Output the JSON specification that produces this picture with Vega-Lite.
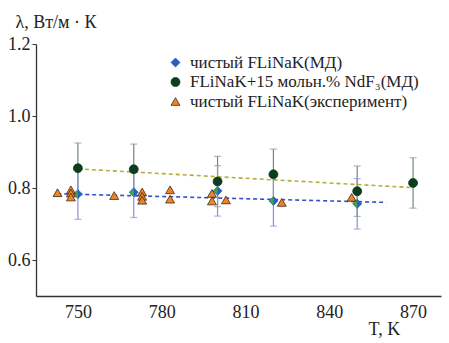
{
  "$schema": "https://vega.github.io/schema/vega-lite/v6.json",
  "width": 405,
  "height": 252,
  "autosize": {"type": "none"},
  "padding": {"left": 36, "top": 44, "right": 8, "bottom": 47},
  "config": {
    "view": {"stroke": null},
    "font": "Liberation Serif",
    "legend": {"padding": 0}
  },
  "datasets": {
    "pts": [
      {"s": "FLiNaK+15 мольн.% NdF₃(МД)", "T": 750, "v": 0.855, "lo": 0.785, "hi": 0.925},
      {"s": "FLiNaK+15 мольн.% NdF₃(МД)", "T": 770, "v": 0.852, "lo": 0.782, "hi": 0.922},
      {"s": "FLiNaK+15 мольн.% NdF₃(МД)", "T": 800, "v": 0.818, "lo": 0.748, "hi": 0.888},
      {"s": "FLiNaK+15 мольн.% NdF₃(МД)", "T": 820, "v": 0.838, "lo": 0.768, "hi": 0.908},
      {"s": "FLiNaK+15 мольн.% NdF₃(МД)", "T": 850, "v": 0.791, "lo": 0.721, "hi": 0.861},
      {"s": "FLiNaK+15 мольн.% NdF₃(МД)", "T": 870, "v": 0.814, "lo": 0.744, "hi": 0.884},
      {"s": "чистый FLiNaK(МД)", "T": 750, "v": 0.783, "lo": 0.713, "hi": 0.853},
      {"s": "чистый FLiNaK(МД)", "T": 770, "v": 0.788, "lo": 0.718, "hi": 0.858},
      {"s": "чистый FLiNaK(МД)", "T": 800, "v": 0.792, "lo": 0.722, "hi": 0.862},
      {"s": "чистый FLiNaK(МД)", "T": 820, "v": 0.764, "lo": 0.694, "hi": 0.834},
      {"s": "чистый FLiNaK(МД)", "T": 850, "v": 0.756, "lo": 0.686, "hi": 0.826},
      {"s": "чистый FLiNaK(эксперимент)", "T": 742.7, "v": 0.787},
      {"s": "чистый FLiNaK(эксперимент)", "T": 747.5, "v": 0.795},
      {"s": "чистый FLiNaK(эксперимент)", "T": 747.5, "v": 0.786},
      {"s": "чистый FLiNaK(эксперимент)", "T": 747.5, "v": 0.775},
      {"s": "чистый FLiNaK(эксперимент)", "T": 763, "v": 0.779},
      {"s": "чистый FLiNaK(эксперимент)", "T": 773, "v": 0.789},
      {"s": "чистый FLiNaK(эксперимент)", "T": 773, "v": 0.777},
      {"s": "чистый FLiNaK(эксперимент)", "T": 773, "v": 0.766},
      {"s": "чистый FLiNaK(эксперимент)", "T": 783, "v": 0.795},
      {"s": "чистый FLiNaK(эксперимент)", "T": 783, "v": 0.769},
      {"s": "чистый FLiNaK(эксперимент)", "T": 798, "v": 0.785},
      {"s": "чистый FLiNaK(эксперимент)", "T": 798, "v": 0.764},
      {"s": "чистый FLiNaK(эксперимент)", "T": 803, "v": 0.767},
      {"s": "чистый FLiNaK(эксперимент)", "T": 823, "v": 0.760},
      {"s": "чистый FLiNaK(эксперимент)", "T": 848, "v": 0.774}
    ],
    "fit": [
      {"line": "blue", "T": 742.6, "v": 0.784},
      {"line": "blue", "T": 860.4, "v": 0.760},
      {"line": "olive", "T": 750, "v": 0.853},
      {"line": "olive", "T": 870, "v": 0.801}
    ]
  },
  "encoding": {
    "x": {
      "field": "T",
      "type": "quantitative",
      "scale": {"domain": [735, 880], "nice": false, "zero": false},
      "axis": {
        "values": [750, 780, 810, 840, 870],
        "ticks": false,
        "grid": false,
        "domainColor": "#333333",
        "domainWidth": 1.3,
        "labelFont": "Liberation Serif",
        "labelFontSize": 18,
        "labelColor": "#222222",
        "labelPadding": 7,
        "title": "T, K",
        "titleFont": "Liberation Serif",
        "titleFontSize": 18,
        "titleFontWeight": "normal",
        "titleColor": "#222222",
        "titleX": 332,
        "titleY": 38,
        "titleAlign": "left",
        "titleBaseline": "alphabetic"
      }
    },
    "y": {
      "field": "v",
      "type": "quantitative",
      "scale": {"domain": [0.5, 1.2], "nice": false, "zero": false},
      "axis": {
        "values": [0.6, 0.8, 1.0, 1.2],
        "format": ".1f",
        "grid": false,
        "tickSize": 4,
        "tickColor": "#333333",
        "domainColor": "#333333",
        "domainWidth": 1.3,
        "labelFont": "Liberation Serif",
        "labelFontSize": 18,
        "labelColor": "#222222",
        "labelPadding": 2,
        "title": "λ, Вт/м · К",
        "titleFont": "Liberation Serif",
        "titleFontSize": 18,
        "titleFontWeight": "normal",
        "titleColor": "#222222",
        "titleAngle": 0,
        "titleX": -21,
        "titleY": -17,
        "titleAlign": "left",
        "titleBaseline": "alphabetic"
      }
    }
  },
  "layer": [
    {
      "data": {"name": "pts"},
      "transform": [{"filter": "isValid(datum.lo)"}],
      "mark": {"type": "rule", "strokeWidth": 1.2},
      "encoding": {
        "y": {"field": "lo", "type": "quantitative", "title": "λ, Вт/м · К"},
        "y2": {"field": "hi"},
        "color": {
          "condition": {"test": "datum.s === 'чистый FLiNaK(МД)'", "value": "#8a92d6"},
          "value": "#708a72"
        }
      }
    },
    {
      "data": {"name": "pts"},
      "transform": [{"filter": "isValid(datum.lo)"}],
      "mark": {"type": "tick", "orient": "horizontal", "size": 7, "thickness": 1.2},
      "encoding": {
        "y": {"field": "lo", "type": "quantitative", "title": "λ, Вт/м · К"},
        "color": {
          "condition": {"test": "datum.s === 'чистый FLiNaK(МД)'", "value": "#8a92d6"},
          "value": "#8a9c8c"
        }
      }
    },
    {
      "data": {"name": "pts"},
      "transform": [{"filter": "isValid(datum.hi)"}],
      "mark": {"type": "tick", "orient": "horizontal", "size": 7, "thickness": 1.2},
      "encoding": {
        "y": {"field": "hi", "type": "quantitative", "title": "λ, Вт/м · К"},
        "color": {
          "condition": {"test": "datum.s === 'чистый FLiNaK(МД)'", "value": "#8a92d6"},
          "value": "#8a9c8c"
        }
      }
    },
    {
      "data": {"name": "fit"},
      "transform": [{"filter": "datum.line === 'blue'"}],
      "mark": {"type": "line", "color": "#3552c4", "strokeWidth": 1.6, "strokeDash": [4, 3]}
    },
    {
      "data": {"name": "fit"},
      "transform": [{"filter": "datum.line === 'olive'"}],
      "mark": {"type": "line", "color": "#b4ad3a", "strokeWidth": 1.6, "strokeDash": [4, 3]}
    },
    {
      "data": {"name": "pts"},
      "transform": [{"filter": "datum.s !== 'чистый FLiNaK(эксперимент)'"}],
      "mark": {"type": "point", "filled": true, "opacity": 1, "strokeWidth": 0.8},
      "encoding": {
        "color": {
          "field": "s",
          "type": "nominal",
          "scale": {
            "domain": ["чистый FLiNaK(МД)", "FLiNaK+15 мольн.% NdF₃(МД)", "чистый FLiNaK(эксперимент)"],
            "range": ["#2c5cc0", "#0d3d1e", "#f5821f"]
          },
          "legend": {
            "title": null,
            "orient": "none",
            "legendX": 131,
            "legendY": 10,
            "labelFont": "Liberation Serif",
            "labelFontSize": 17,
            "labelColor": "#222222",
            "labelLimit": 400,
            "labelOffset": 6,
            "rowPadding": 1.5,
            "symbolSize": 80,
            "symbolStrokeWidth": 0.8
          }
        },
        "shape": {
          "field": "s",
          "type": "nominal",
          "scale": {
            "domain": ["чистый FLiNaK(МД)", "FLiNaK+15 мольн.% NdF₃(МД)", "чистый FLiNaK(эксперимент)"],
            "range": ["diamond", "circle", "triangle-up"]
          }
        },
        "stroke": {
          "field": "s",
          "type": "nominal",
          "scale": {
            "domain": ["чистый FLiNaK(МД)", "FLiNaK+15 мольн.% NdF₃(МД)", "чистый FLiNaK(эксперимент)"],
            "range": ["#2c5cc0", "#0d3d1e", "#3a2a20"]
          }
        },
        "size": {"value": 80}
      }
    },
    {
      "data": {"name": "pts"},
      "transform": [{"filter": "datum.s === 'чистый FLiNaK(МД)'"}],
      "mark": {"type": "point", "filled": true, "opacity": 1, "shape": "M -1 0 L 0 -1 L 0 1 Z", "color": "#3aa84a", "size": 80}
    },
    {
      "data": {"name": "pts"},
      "transform": [{"filter": "datum.s === 'чистый FLiNaK(эксперимент)'"}],
      "mark": {"type": "point", "filled": true, "opacity": 1, "strokeWidth": 0.8},
      "encoding": {
        "color": {"field": "s", "type": "nominal"},
        "shape": {"field": "s", "type": "nominal"},
        "stroke": {"field": "s", "type": "nominal"},
        "size": {"value": 80}
      }
    }
  ]
}
